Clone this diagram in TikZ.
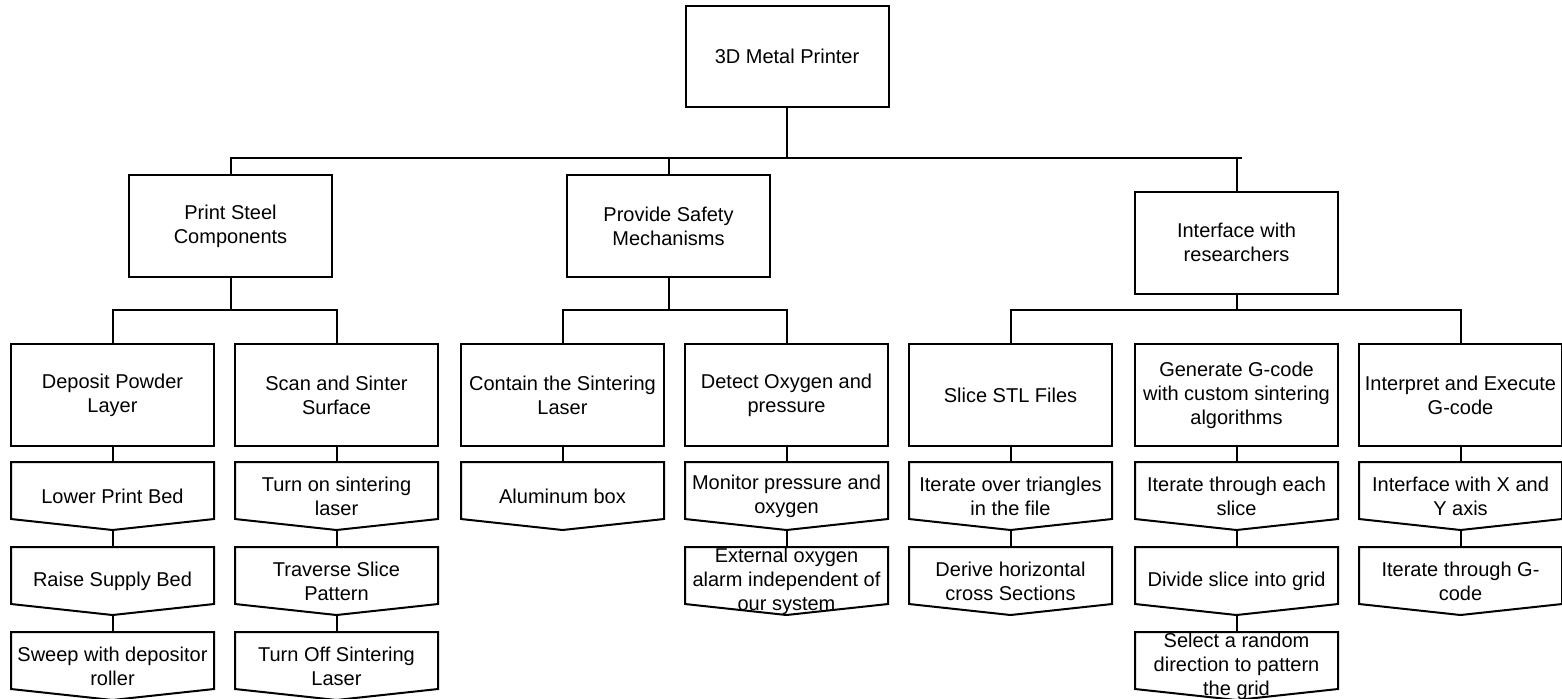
\documentclass[tikz,border=0pt]{standalone}
\usepackage{fontspec}
\setmainfont{Liberation Sans}
\begin{document}
\begin{tikzpicture}[x=0.5pt,y=-0.5pt,line width=1pt,
        txt/.style={align=center,inner sep=1pt,font=\fontsize{10}{12}\selectfont},
        box/.style={txt,draw,minimum width=101.5pt,minimum height=51pt}]
            \useasboundingbox (0,0) rectangle (1562,698);
            % top level
            \node[box,minimum height=50.5pt] (top) at (787,56.5) {3D Metal Printer};
            \node[box] (ps) at (230.5,226) {Print Steel\\Components};
            \node[box] (sm) at (668.5,226) {Provide Safety\\Mechanisms};
            \node[box] (ir) at (1236.5,242.5) {Interface with\\researchers};

            % second level
            \node[box] (dp) at (112.5,395) {Deposit Powder\\Layer};
            \node[box] (ss) at (336.5,395) {Scan and Sinter\\Surface};
            \node[box] (cl) at (562.5,395) {Contain the Sintering\\Laser};
            \node[box] (dop) at (786.5,395) {Detect Oxygen and\\pressure};
            \node[box] (sl) at (1010.5,395) {Slice STL Files};
            \node[box] (gc) at (1236.5,395) {Generate G-code\\with custom sintering\\algorithms};
            \node[box] (ie) at (1460.5,395) {Interpret and Execute\\G-code};

            % steps
            \node[txt] (dp1) at (112.5,496) {Lower Print Bed};
            \node[txt] (dp2) at (112.5,581) {Raise Supply Bed};
            \node[txt] (dp3) at (112.5,666) {Sweep with depositor\\roller};
            \node[txt] (ss1) at (336.5,496) {Turn on sintering\\laser};
            \node[txt] (ss2) at (336.5,581) {Traverse Slice\\Pattern};
            \node[txt] (ss3) at (336.5,666) {Turn Off Sintering\\Laser};
            \node[txt] (cl1) at (562.5,496) {Aluminum box};
            \node[txt] (dop1) at (786.5,496) {Monitor pressure and\\oxygen};
            \node[txt] (dop2) at (786.5,581) {External oxygen\\alarm independent of\\our system};
            \node[txt] (sl1) at (1010.5,496) {Iterate over triangles\\in the file};
            \node[txt] (sl2) at (1010.5,581) {Derive horizontal\\cross Sections};
            \node[txt] (gc1) at (1236.5,496) {Iterate through each\\slice};
            \node[txt] (gc2) at (1236.5,581) {Divide slice into grid};
            \node[txt] (gc3) at (1236.5,666) {Select a random\\direction to pattern\\the grid};
            \node[txt] (ie1) at (1460.5,496) {Interface with X and\\Y axis};
            \node[txt] (ie2) at (1460.5,581) {Iterate through G-\\code};

            \foreach \n in {dp1,dp2,dp3,ss1,ss2,ss3,cl1,dop1,dop2,sl1,sl2,gc1,gc2,gc3,ie1,ie2}
            {
                \draw[line join=miter] (\n.center) ++(-101.5,-34) -- ++(203,0) -- ++(0,57)
                    -- ++(-101.5,11) -- ++(-101.5,-11) -- cycle;
            };

            % buses
            \coordinate (b0) at (787,158);
            \coordinate (b1) at (0,310);
            \draw (top.south) -- (b0);
            \draw (ps.north) |- ([xshift=2.5pt]b0 -| ir.north);
            \draw (ir.north) -- (ir.north |- b0);
            \draw (sm.north) -- (sm.north |- b0);

            \draw (ps.south) -- (ps.south |- b1);
            \draw (dp.north) |- (b1 -| ss.north) -- (ss.north);
            \draw (sm.south) -- (sm.south |- b1);
            \draw (cl.north) |- (b1 -| dop.north) -- (dop.north);
            \draw (ir.south) -- (ir.south |- b1);
            \draw (sl.north) |- (b1 -| ie.north) -- (ie.north);

            % chains
            \foreach \a/\b in {dp/dp1,ss/ss1,cl/cl1,dop/dop1,sl/sl1,gc/gc1,ie/ie1}
                \draw (\a.south) -- ([yshift=17pt]\b.center);
            \foreach \a/\b in {dp1/dp2,dp2/dp3,ss1/ss2,ss2/ss3,dop1/dop2,sl1/sl2,gc1/gc2,gc2/gc3,ie1/ie2}
                \draw ([yshift=-17pt]\a.center) -- ([yshift=17pt]\b.center);
        \end{tikzpicture}
\end{document}
